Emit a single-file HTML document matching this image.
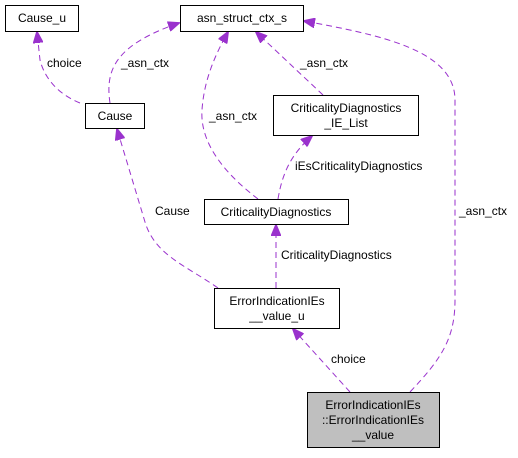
<!DOCTYPE html>
<html><head><style>
body{margin:0;background:#fff}
svg text{font-family:"Liberation Sans",Arial,sans-serif;font-size:12px;fill:#000}
</style></head><body>
<svg width="518" height="453" xmlns="http://www.w3.org/2000/svg">
<defs><marker id="a" markerWidth="12" markerHeight="10" refX="11" refY="5" orient="auto" markerUnits="userSpaceOnUse"><path d="M0,0 L12,5 L0,10 Z" fill="#9a32cd" stroke="#9a32cd"/></marker></defs>
<g fill="none" stroke="#9a32cd" stroke-width="1" stroke-dasharray="6,4" marker-end="url(#a)">
<path d="M80,103 C60,95 45,80 40,60 L37,32"/>
<path d="M110,103 C105,70 115,45 179,23"/>
<path d="M258,199 C220,170 200,140 202,110 C204,80 215,55 228,32"/>
<path d="M323,95 L256,32"/>
<path d="M278,199 C282,175 290,155 312,136"/>
<path d="M218,288 C185,265 155,255 145,222 L117,129"/>
<path d="M276,288 L276,225"/>
<path d="M350,392 L293,329"/>
<path d="M410,392 C440,360 455,340 455,300 L455,100 C455,50 380,35 304,21"/>
</g>
<g fill="#fff" stroke="#000" stroke-width="1">
<rect x="5.5" y="5.5" width="73" height="26"/>
<rect x="180.5" y="5.5" width="123" height="26"/>
<rect x="85.5" y="103.5" width="59" height="25"/>
<rect x="273.5" y="95.5" width="145" height="40"/>
<rect x="204.5" y="199.5" width="144" height="25"/>
<rect x="214.5" y="288.5" width="125" height="40"/>
<rect x="307.5" y="392.5" width="132" height="55" fill="#bfbfbf"/>
</g>
<g text-anchor="middle">
<text x="42" y="22">Cause_u</text>
<text x="242" y="22">asn_struct_ctx_s</text>
<text x="115" y="120">Cause</text>
<text x="346" y="112">CriticalityDiagnostics</text>
<text x="346" y="127">_IE_List</text>
<text x="276" y="216">CriticalityDiagnostics</text>
<text x="277" y="305">ErrorIndicationIEs</text>
<text x="277" y="320">__value_u</text>
<text x="373" y="409">ErrorIndicationIEs</text>
<text x="373" y="424">::ErrorIndicationIEs</text>
<text x="373" y="439">__value</text>
</g>
<text x="47" y="67">choice</text>
<text x="121" y="67">_asn_ctx</text>
<text x="209" y="120">_asn_ctx</text>
<text x="300" y="67">_asn_ctx</text>
<text x="295" y="170">iEsCriticalityDiagnostics</text>
<text x="155" y="215">Cause</text>
<text x="281" y="259">CriticalityDiagnostics</text>
<text x="331" y="363">choice</text>
<text x="459" y="215">_asn_ctx</text>
</svg>
</body></html>
